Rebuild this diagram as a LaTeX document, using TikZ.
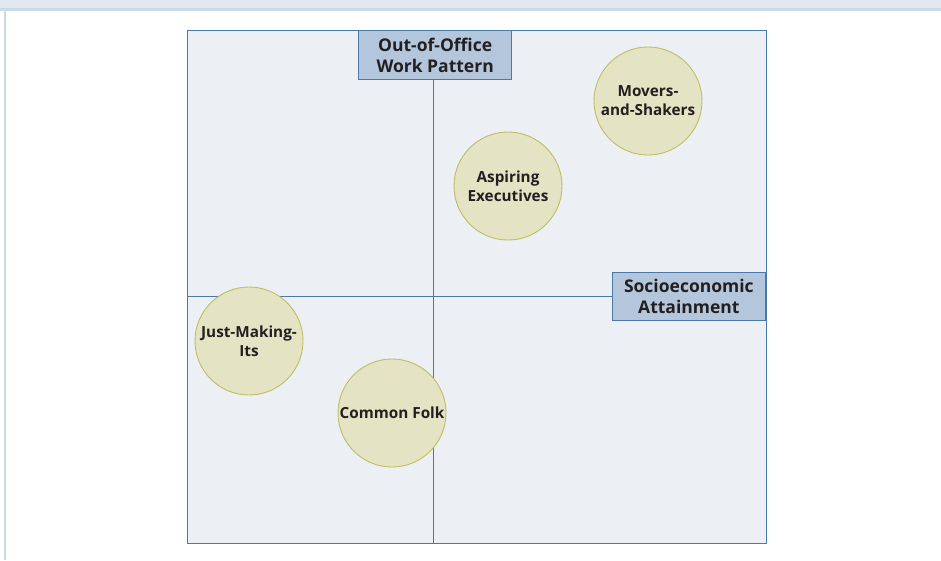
\documentclass[tikz,border=0pt]{standalone}
\usepackage{fontspec}
\setmainfont{Open Sans}
\begin{document}
\begin{tikzpicture}[x=1pt,y=-1pt,
  frameline/.style={draw=axisblue,line width=1.3pt},
  labelbox/.style={draw=axisblue,line width=1.3pt,fill=boxblue,inner sep=0pt,font=\fontsize{17.5}{21.5}\selectfont\bfseries,text=textdark,align=center},
  seg/.style={circle,draw=circedge,line width=0.9pt,fill=circfill,minimum size=108pt,inner sep=0pt,font=\fontsize{15.3}{19}\selectfont\bfseries,text=textdark,align=center}]
\definecolor{axisblue}{HTML}{4A78A8}
\definecolor{boxblue}{HTML}{B4C6DC}
\definecolor{panel}{HTML}{ECF0F5}
\definecolor{circfill}{HTML}{E4E4C4}
\definecolor{circedge}{HTML}{BDBD62}
\definecolor{textdark}{HTML}{231F20}
\definecolor{topband}{HTML}{E0E8EE}
\definecolor{bandline}{HTML}{C8DCE6}
\useasboundingbox (0,0) rectangle (941,560);
\fill[white] (0,0) rectangle (941,560);
\fill[topband] (0,0) rectangle (941,9);
\draw[bandline,line width=2.5pt] (0,9.5) -- (941,9.5);
\draw[bandline,line width=2.5pt] (5,10) -- (5,560);
\node[frameline,fill=panel,minimum width=579pt,minimum height=513pt,inner sep=0pt,anchor=north west] (panel) at (187,30) {};
\node[labelbox,minimum width=153pt,minimum height=49pt,anchor=north west] (ylab) at (358,30) {Out-of-Office\\Work Pattern};
\node[labelbox,minimum width=153pt,minimum height=48pt,anchor=north east] (xlab) at (766,272) {Socioeconomic\\Attainment};
\coordinate (vb) at (433,543);
\coordinate (hl) at (187,296);
\draw[axisblue,line width=1pt] (ylab.south -| vb) -- (vb);
\draw[axisblue,line width=1pt] (hl) -- (hl -| xlab.west);
\node[frameline,minimum width=579pt,minimum height=513pt,inner sep=0pt,anchor=north west] (panelframe) at (187,30) {};
\node[seg] (movers) at (648,101) {Movers-\\and-Shakers};
\node[seg] (aspiring) at (508,186) {Aspiring\\Executives};
\node[seg] (justmaking) at (249,341) {Just-Making-\\Its};
\node[seg] (common) at (392,413) {Common Folk};
\end{tikzpicture}
\end{document}
